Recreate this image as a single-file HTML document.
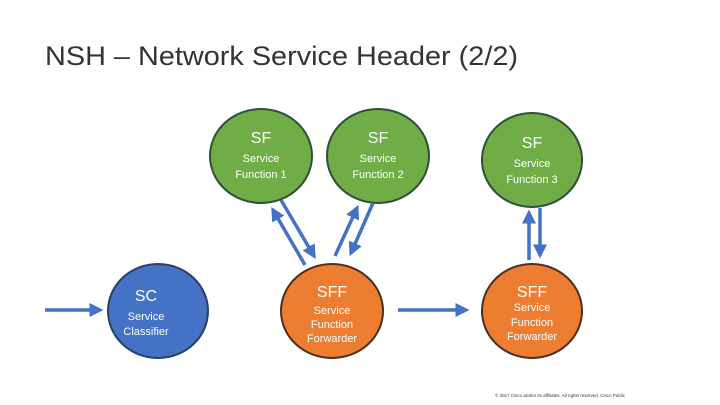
<!DOCTYPE html><html><head><style>body{margin:0;background:#fff}svg{display:block}</style></head><body>
<svg width="720" height="405" viewBox="0 0 720 405" xmlns="http://www.w3.org/2000/svg" font-family="Liberation Sans, sans-serif">
<defs><marker id="a" markerWidth="4" markerHeight="4" refX="3" refY="2" orient="auto" markerUnits="strokeWidth"><path d="M0,0 L4,2 L0,4 z" fill="#4472c4"/></marker></defs>
<text x="45" y="65" font-size="27" fill="#333" textLength="473" lengthAdjust="spacingAndGlyphs">NSH – Network Service Header (2/2)</text>
<g stroke="#2f4f3a" stroke-width="2">
<ellipse cx="261" cy="156" rx="51" ry="47" fill="#70ad47"/>
<ellipse cx="378" cy="156" rx="51" ry="47" fill="#70ad47"/>
<ellipse cx="532" cy="160" rx="50" ry="47" fill="#70ad47"/>
<ellipse cx="158" cy="311" rx="50" ry="47" fill="#4472c4" stroke="#2a3f66"/>
<ellipse cx="332" cy="311" rx="51" ry="47" fill="#ed7d31" stroke="#4a3020"/>
<ellipse cx="532" cy="311" rx="50" ry="47" fill="#ed7d31" stroke="#4a3020"/>
</g>
<g stroke="#4472c4" stroke-width="3.5" marker-end="url(#a)">
<line x1="45" y1="310" x2="100" y2="310"/>
<line x1="398" y1="310" x2="466" y2="310"/>
<line x1="305" y1="265" x2="273" y2="210"/>
<line x1="281" y1="200" x2="314" y2="256"/>
<line x1="335" y1="256" x2="357" y2="208"/>
<line x1="373" y1="203" x2="351" y2="253"/>
<line x1="529" y1="260" x2="529" y2="213"/>
<line x1="540" y1="208" x2="540" y2="255"/>
</g>
<g fill="#fff" text-anchor="middle" font-size="11">
<text x="261" y="143" font-size="16">SF</text><text x="261" y="162">Service</text><text x="261" y="178">Function 1</text>
<text x="378" y="143" font-size="16">SF</text><text x="378" y="162">Service</text><text x="378" y="178">Function 2</text>
<text x="532" y="148" font-size="16">SF</text><text x="532" y="167">Service</text><text x="532" y="183">Function 3</text>
<text x="146" y="301" font-size="16">SC</text><text x="146" y="320">Service</text><text x="146" y="335">Classifier</text>
<text x="332" y="297" font-size="16">SFF</text><text x="332" y="314">Service</text><text x="332" y="328">Function</text><text x="332" y="342">Forwarder</text>
<text x="532" y="297" font-size="16">SFF</text><text x="532" y="311">Service</text><text x="532" y="326">Function</text><text x="532" y="340">Forwarder</text>
</g>
<text x="495" y="397" font-size="4.5" fill="#333">© 2017 Cisco and/or its affiliates. All rights reserved.   Cisco Public</text>
</svg></body></html>
